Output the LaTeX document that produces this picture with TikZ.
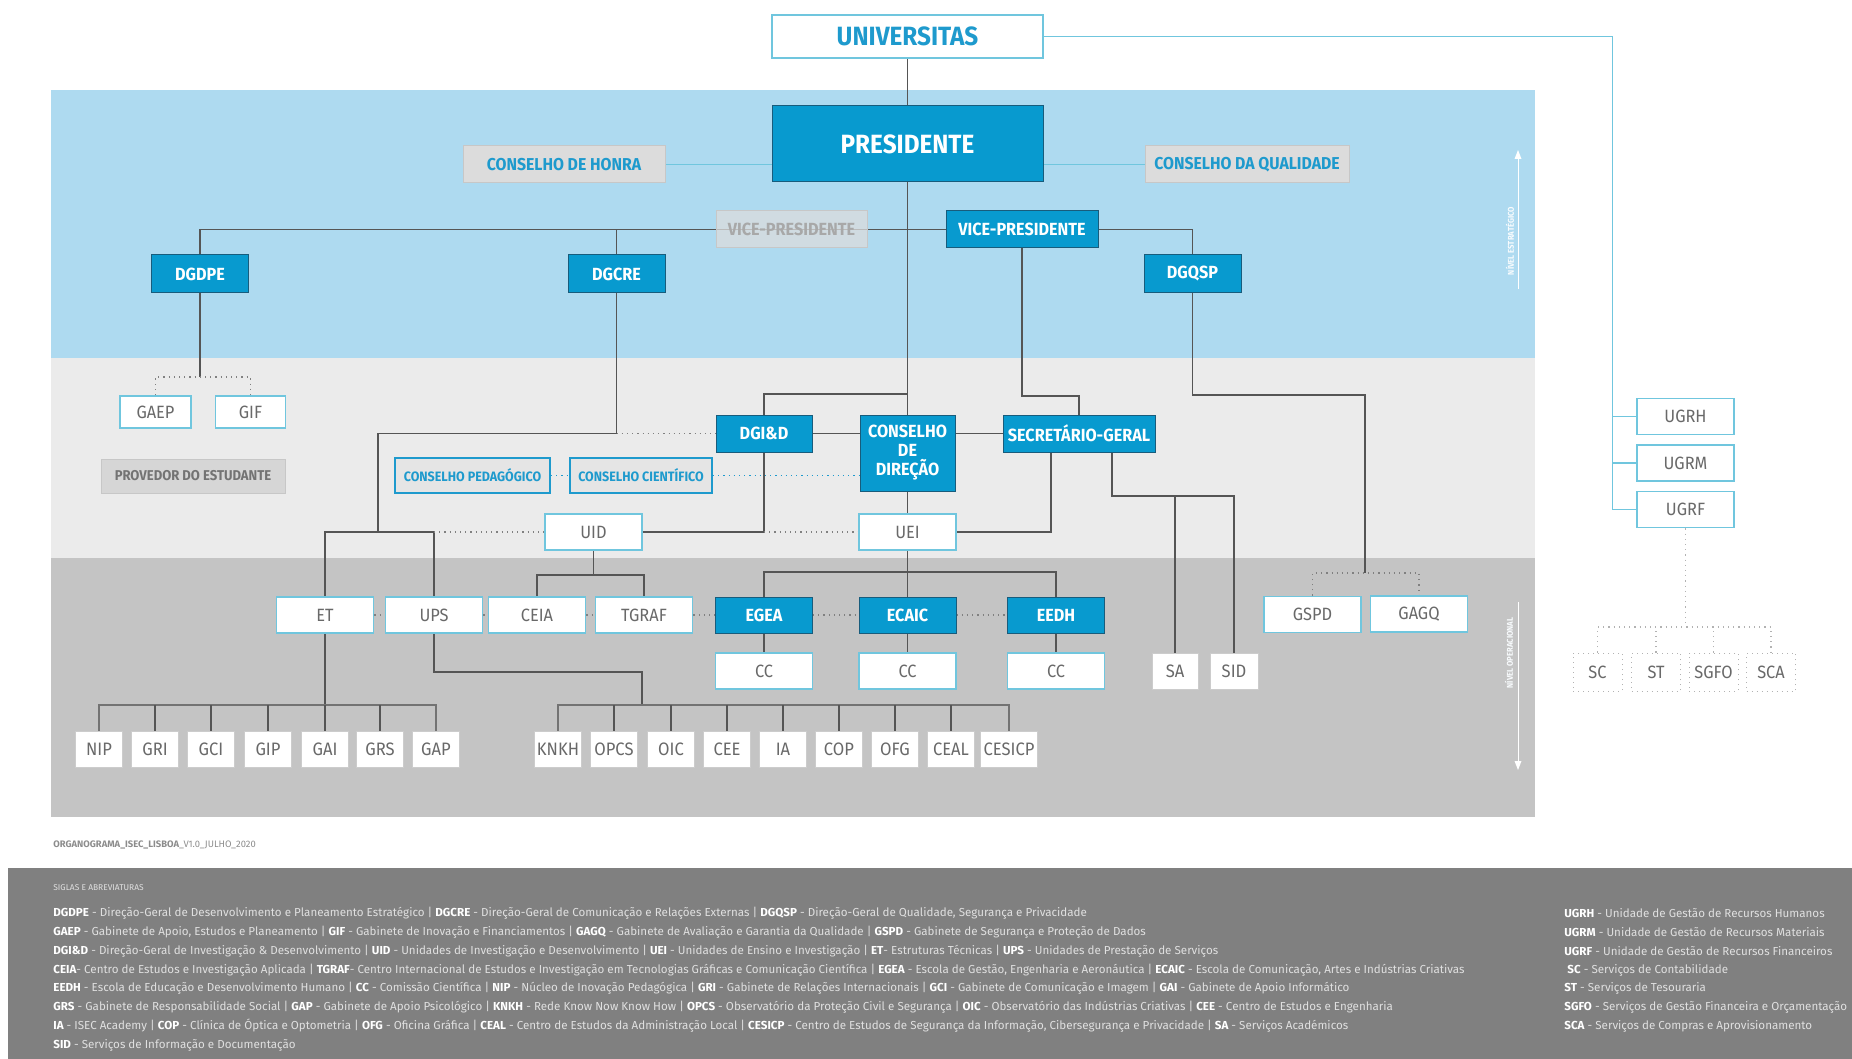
\documentclass[tikz,border=0pt]{standalone}
\usepackage{fontspec}
\setmainfont{Fira Sans}[FakeStretch=0.92]
\newfontfamily\legendfont{Fira Sans}
\usetikzlibrary{calc}

\definecolor{bandblue}{RGB}{174,218,240}
\definecolor{bandlight}{RGB}{235,235,235}
\definecolor{banddark}{RGB}{196,196,196}
\definecolor{boxblue}{RGB}{8,154,207}
\definecolor{boxedge}{RGB}{24,92,124}
\definecolor{rimblue}{RGB}{112,198,222}
\definecolor{textblue}{RGB}{30,154,205}
\definecolor{textgray}{RGB}{105,105,105}
\definecolor{linegray}{RGB}{85,85,85}
\definecolor{footgray}{RGB}{128,128,128}
\definecolor{councilgray}{RGB}{220,220,220}

\newcommand{\sigla}[1]{\textbf{\color{white}#1}}

\pgfdeclarelayer{lines}
\pgfsetlayers{lines,main}

\begin{document}
\begin{tikzpicture}[x=5pt,y=5pt,
    bluebox/.style={draw=boxedge, line width=0.5pt, fill=boxblue, text=white, font=\bfseries\fontsize{8.8}{9.5}\selectfont, minimum width=48.5pt, minimum height=19pt},
    rimbox/.style={draw=rimblue, line width=0.9pt, fill=white, text=textgray, font=\fontsize{8.9}{9}\selectfont, minimum width=48.5pt, minimum height=18pt},
    unitbox/.style={draw=white!80!black, line width=0.4pt, fill=white, text=textgray, font=\fontsize{9}{9}\selectfont, minimum width=23.5pt, minimum height=18pt},
    servbox/.style={draw=white!70!black, line width=0.5pt, dotted, fill=white, text=textgray, font=\fontsize{8.9}{9}\selectfont, minimum width=24.5pt, minimum height=19pt},
    greybox/.style={draw=white!78!black, line width=0.5pt, fill=councilgray, text=textblue, font=\bfseries\fontsize{8.6}{9}\selectfont, minimum height=18.5pt},
    councilbox/.style={draw=textblue, line width=0.9pt, fill=white!90!black, text=textblue, font=\bfseries\fontsize{6.8}{7}\selectfont, minimum height=17.5pt},
    link/.style={draw=linegray, line width=0.6pt},
    busline/.style={draw=white!45!black, line width=1pt},
    dotlink/.style={draw=gray, line width=0.6pt, dotted},
    bluelink/.style={draw=rimblue, line width=0.9pt},
    leveltext/.style={text=white!92!bandblue, font=\bfseries\fontsize{4.2}{5}\selectfont, rotate=90},
    legend/.style={anchor=west, text=white!88!black, font=\legendfont\fontsize{5.8}{7}\selectfont}]
		\tikzstyle{every node}+=[inner sep=0pt]
		\useasboundingbox (0,0) rectangle (185.2,-105.9);
		% nivel estrategico
		\node [rimbox, minimum width=135.5pt, minimum height=21.5pt, text=textblue, font=\bfseries\fontsize{13.2}{14}\selectfont] (univ) at (90.75,-3.65) {UNIVERSITAS};
		\node [bluebox, minimum width=135.5pt, minimum height=38pt, font=\bfseries\fontsize{13.2}{14}\selectfont] (pres) at (90.75,-14.4) {PRESIDENTE};
		\node [greybox, minimum width=101pt] (honra) at (56.4,-16.45) {CONSELHO DE HONRA};
		\node [greybox, minimum width=102pt] (qual) at (124.7,-16.45) {CONSELHO DA QUALIDADE};
		\node [greybox, minimum width=75.5pt, text=white!66!black, font=\bfseries\fontsize{8.8}{9.5}\selectfont, fill opacity=0.75, text opacity=1] (vpgrey) at (79.15,-22.95) {VICE-PRESIDENTE};
		\node [bluebox, minimum width=76pt, minimum height=18.5pt] (vpblue) at (102.2,-22.95) {VICE-PRESIDENTE};
		\node [bluebox] (dgdpe) at (20.0,-27.4) {DGDPE};
		\node [bluebox] (dgcre) at (61.65,-27.4) {DGCRE};
		\node [bluebox] (dgqsp) at (119.25,-27.4) {DGQSP};
		% nivel intermedio
		\node [rimbox, minimum width=35.5pt, minimum height=16pt] (gaep) at (15.55,-41.2) {GAEP};
		\node [rimbox, minimum width=35pt, minimum height=16pt] (gif) at (25.05,-41.2) {GIF};
		\node [greybox, fill=white!84!black, text=white!45!black, minimum width=92pt, minimum height=17pt, font=\bfseries\fontsize{7.1}{7}\selectfont] (prov) at (19.3,-47.6) {PROVEDOR DO ESTUDANTE};
		\node [councilbox, minimum width=77.5pt] (cped) at (47.25,-47.55) {CONSELHO PEDAGÓGICO};
		\node [councilbox, minimum width=71pt] (ccient) at (64.1,-47.55) {CONSELHO CIENTÍFICO};
		\node [bluebox, minimum width=48pt, minimum height=18.5pt] (dgid) at (76.4,-43.35) {DGI\&D};
		\node [bluebox, minimum width=47.5pt, minimum height=38pt, align=center] (cdd) at (90.75,-45.3) {CONSELHO\\DE\\DIREÇÃO};
		\node [bluebox, minimum width=76pt, minimum height=18.5pt] (sg) at (107.9,-43.35) {SECRETÁRIO-GERAL};
		\node [rimbox] (uid) at (59.35,-53.2) {UID};
		\node [rimbox] (uei) at (90.75,-53.2) {UEI};
		% nivel operacional
		\node [rimbox] (et) at (32.5,-61.5) {ET};
		\node [rimbox] (ups) at (43.4,-61.5) {UPS};
		\node [rimbox] (ceia) at (53.7,-61.5) {CEIA};
		\node [rimbox] (tgraf) at (64.4,-61.5) {TGRAF};
		\node [bluebox, minimum height=18pt] (egea) at (76.4,-61.5) {EGEA};
		\node [bluebox, minimum height=18pt] (ecaic) at (90.75,-61.5) {ECAIC};
		\node [bluebox, minimum height=18pt] (eedh) at (105.6,-61.5) {EEDH};
		\node [rimbox] (cc1) at (76.4,-67.1) {CC};
		\node [rimbox] (cc2) at (90.75,-67.1) {CC};
		\node [rimbox] (cc3) at (105.6,-67.1) {CC};
		\node [unitbox, minimum width=23pt] (sa) at (117.5,-67.1) {SA};
		\node [unitbox, minimum width=24pt] (sid) at (123.4,-67.1) {SID};
		\node [rimbox] (gspd) at (131.25,-61.45) {GSPD};
		\node [rimbox] (gagq) at (141.9,-61.4) {GAGQ};
		\node [unitbox] (nip) at (9.9,-74.9) {NIP};
		\node [unitbox] (gri) at (15.5,-74.9) {GRI};
		\node [unitbox] (gci) at (21.1,-74.9) {GCI};
		\node [unitbox] (gip) at (26.8,-74.9) {GIP};
		\node [unitbox] (gai) at (32.5,-74.9) {GAI};
		\node [unitbox] (grs) at (38.0,-74.9) {GRS};
		\node [unitbox] (gap) at (43.6,-74.9) {GAP};
		\node [unitbox] (knkh) at (55.8,-74.9) {KNKH};
		\node [unitbox] (opcs) at (61.4,-74.9) {OPCS};
		\node [unitbox] (oic) at (67.1,-74.9) {OIC};
		\node [unitbox] (cee) at (72.7,-74.9) {CEE};
		\node [unitbox] (ia) at (78.3,-74.9) {IA};
		\node [unitbox] (cop) at (83.9,-74.9) {COP};
		\node [unitbox] (ofg) at (89.5,-74.9) {OFG};
		\node [unitbox] (ceal) at (95.1,-74.9) {CEAL};
		\node [unitbox, minimum width=28.5pt] (cesicp) at (100.9,-74.9) {CESICP};
		% unidades de gestao
		\node [rimbox] (ugrh) at (168.55,-41.65) {UGRH};
		\node [rimbox] (ugrm) at (168.55,-46.3) {UGRM};
		\node [rimbox] (ugrf) at (168.55,-50.95) {UGRF};
		\node [servbox] (sc) at (159.75,-67.2) {SC};
		\node [servbox] (st) at (165.6,-67.2) {ST};
		\node [servbox] (sgfo) at (171.35,-67.2) {SGFO};
		\node [servbox] (sca) at (177.1,-67.2) {SCA};
		% niveis
		\node [leveltext] (lvlstrat) at (151.0,-24.1) {NÍVEL ESTRATÉGICO};
		\node [leveltext] (lvlop) at (150.9,-65.3) {NÍVEL OPERACIONAL};
		\draw [white, line width=0.4pt] (151.8,-28.9) -- (151.8,-15.6);
		\fill [white] (151.8,-15.0) -- (151.45,-15.9) -- (152.15,-15.9);
		\draw [white, line width=0.4pt] (151.8,-60.2) -- (151.8,-76.4);
		\fill [white] (151.8,-77.0) -- (151.45,-76.1) -- (152.15,-76.1);
		\coordinate (ugbus) at (161.25,-3.65);
		\coordinate (gbus) at (20.0,-37.7);
		\coordinate (crebend) at (37.8,-43.35);
		\coordinate (etbus) at (37.8,-53.2);
		\coordinate (uidbus) at (59.35,-57.5);
		\coordinate (presjoin) at (90.75,-39.4);
		\coordinate (sgknee) at (107.9,-39.6);
		\coordinate (sabus) at (117.5,-49.6);
		\coordinate (qspknee) at (136.5,-39.5);
		\coordinate (qspbus) at (136.5,-57.3);
		\coordinate (ueibus) at (90.75,-57.2);
		\coordinate (etbus2) at (32.5,-70.5);
		\coordinate (upsknee) at (64.2,-67.2);
		\coordinate (upsbus) at (64.2,-70.5);
		\coordinate (servbus) at (168.55,-62.7);
		% rodape
		\fill [footgray] (0.8,-86.8) rectangle (185.2,-105.9);
		\node [anchor=west, text=white!55!black, font=\legendfont\fontsize{4.7}{5}\selectfont] (versao) at (5.3,-84.5) {\textbf{ORGANOGRAMA\_ISEC\_LISBOA}\_V1.0\_JULHO\_2020};
		\node [legend, font=\legendfont\fontsize{4.2}{5}\selectfont] (siglas) at (5.3,-88.8) {SIGLAS E ABREVIATURAS};
		\node [legend] (leg1) at (5.3,-91.3) {\sigla{DGDPE} - Direção-Geral de Desenvolvimento e Planeamento Estratégico | \sigla{DGCRE} - Direção-Geral de Comunicação e Relações Externas | \sigla{DGQSP} - Direção-Geral de Qualidade, Segurança e Privacidade};
		\node [legend] (leg2) at (5.3,-93.2) {\sigla{GAEP} - Gabinete de Apoio, Estudos e Planeamento | \sigla{GIF} - Gabinete de Inovação e Financiamentos | \sigla{GAGQ} - Gabinete de Avaliação e Garantia da Qualidade | \sigla{GSPD} - Gabinete de Segurança e Proteção de Dados};
		\node [legend] (leg3) at (5.3,-95.1) {\sigla{DGI\&D} - Direção-Geral de Investigação \& Desenvolvimento | \sigla{UID} - Unidades de Investigação e Desenvolvimento | \sigla{UEI} - Unidades de Ensino e Investigação | \sigla{ET}- Estruturas Técnicas | \sigla{UPS} - Unidades de Prestação de Serviços};
		\node [legend] (leg4) at (5.3,-97.0) {\sigla{CEIA}- Centro de Estudos e Investigação Aplicada | \sigla{TGRAF}- Centro Internacional de Estudos e Investigação em Tecnologias Gráficas e Comunicação Científica | \sigla{EGEA} - Escola de Gestão, Engenharia e Aeronáutica | \sigla{ECAIC} - Escola de Comunicação, Artes e Indústrias Criativas};
		\node [legend] (leg5) at (5.3,-98.85) {\sigla{EEDH} - Escola de Educação e Desenvolvimento Humano | \sigla{CC} - Comissão Científica | \sigla{NIP} - Núcleo de Inovação Pedagógica | \sigla{GRI} - Gabinete de Relações Internacionais | \sigla{GCI} - Gabinete de Comunicação e Imagem | \sigla{GAI} - Gabinete de Apoio Informático};
		\node [legend] (leg6) at (5.3,-100.7) {\sigla{GRS} - Gabinete de Responsabilidade Social | \sigla{GAP} - Gabinete de Apoio Psicológico | \sigla{KNKH} - Rede Know Now Know How | \sigla{OPCS} - Observatório da Proteção Civil e Segurança | \sigla{OIC} - Observatório das Indústrias Criativas | \sigla{CEE} - Centro de Estudos e Engenharia};
		\node [legend] (leg7) at (5.3,-102.6) {\sigla{IA} - ISEC Academy | \sigla{COP} - Clínica de Óptica e Optometria | \sigla{OFG} - Oficina Gráfica | \sigla{CEAL} - Centro de Estudos da Administração Local | \sigla{CESICP} - Centro de Estudos de Segurança da Informação, Cibersegurança e Privacidade | \sigla{SA} - Serviços Académicos};
		\node [legend] (leg8) at (5.3,-104.5) {\sigla{SID} - Serviços de Informação e Documentação};
		\node [legend] (legr1) at (156.4,-91.3) {\sigla{UGRH} - Unidade de Gestão de Recursos Humanos};
		\node [legend] (legr2) at (156.4,-93.2) {\sigla{UGRM} - Unidade de Gestão de Recursos Materiais};
		\node [legend] (legr3) at (156.4,-95.1) {\sigla{UGRF} - Unidade de Gestão de Recursos Financeiros};
		\node [legend] (legr4) at (156.7,-97.0) {\sigla{SC} - Serviços de Contabilidade};
		\node [legend] (legr5) at (156.4,-98.85) {\sigla{ST} - Serviços de Tesouraria};
		\node [legend] (legr6) at (156.4,-100.7) {\sigla{SGFO} - Serviços de Gestão Financeira e Orçamentação};
		\node [legend] (legr7) at (156.4,-102.6) {\sigla{SCA} - Serviços de Compras e Aprovisionamento};
		\begin{pgfonlayer}{lines}
		\fill [bandblue] (5.1,-9.05) rectangle (153.5,-35.8);
		\fill [bandlight] (5.1,-35.8) rectangle (153.5,-55.75);
		\fill [banddark] (5.1,-55.75) rectangle (153.5,-81.7);
		\draw [bluelink] (univ.east) -- (ugbus) |- (ugrf.west);
		\draw [bluelink] (ugbus |- ugrh.west) -- (ugrh.west);
		\draw [bluelink] (ugbus |- ugrm.west) -- (ugrm.west);
		\draw [bluelink] (honra.east) -- (honra.east -| pres.west);
		\draw [bluelink] (qual.west) -- (qual.west -| pres.east);
		\draw [link] (univ) -- (pres);
		\draw [link] (pres) -- (cdd);
		\draw [link] (dgdpe.north) |- (vpblue.west);
		\draw [link] (vpblue.east) -| (dgqsp.north);
		\draw [link] (dgcre.north) -- (dgcre.north |- vpgrey.west);
		\draw [link] (dgdpe) -- (gbus);
		\draw [dotlink] (gaep.north) |- (gbus) -| (gif.north);
		\draw [link] (dgcre.south) |- (crebend) -- (etbus);
		\draw [link] (et.north) |- (etbus) -| (ups.north);
		\draw [dotlink] (dgcre.south |- dgid.west) -- (dgid.west);
		\draw [dotlink] (uid.west -| ups.north) -- (uid.west);
		\draw [link] (uid) -- (uidbus);
		\draw [link] (ceia.north) |- (uidbus) -| (tgraf.north);
		\draw [link] (uid.east) -| (dgid.south);
		\draw [dotlink] (dgid.south |- uei.west) -- (uei.west);
		\draw [link] (dgid.north) |- (presjoin);
		\draw [link] (dgid.east) -- (dgid.east -| cdd.west);
		\draw [link] (sg.west) -- (sg.west -| cdd.east);
		\draw [dotlink, draw=textblue] (cped.east) -- (ccient.west);
		\draw [dotlink, draw=textblue] (ccient.east) -- (ccient.east -| cdd.west);
		\draw [link] (cdd) -- (uei);
		\draw [link] (vpblue.south) |- (sgknee) -- (sg.north);
		\draw [link] ($(sg.south)+(-2.8,0)$) |- (uei.east);
		\draw [link] ($(sg.south)+(3.3,0)$) |- (sabus) -| (sid.north);
		\draw [link] (sabus) -- (sa.north);
		\draw [link] (dgqsp.south) |- (qspknee) -- (qspbus);
		\draw [dotlink] (gspd.north) |- (qspbus) -| (gagq.north);
		\draw [link] (uei) -- (ecaic);
		\draw [link] (egea.north) |- (ueibus) -| (eedh.north);
		\draw [link] (egea) -- (cc1);
		\draw [link] (ecaic) -- (cc2);
		\draw [link] (eedh) -- (cc3);
		\draw [dotlink] (et.east) -- (ups.west) (ups.east) -- (ceia.west) (ceia.east) -- (tgraf.west) (tgraf.east) -- (egea.west) (egea.east) -- (ecaic.west) (ecaic.east) -- (eedh.west);
		\draw [link] (et) -- (etbus2);
		\draw [busline] (nip.north) |- (etbus2) -| (gap.north);
		\draw [link] (gri.north) -- (gri.north |- etbus2);
		\draw [link] (gci.north) -- (gci.north |- etbus2);
		\draw [link] (gip.north) -- (gip.north |- etbus2);
		\draw [link] (gai.north) -- (gai.north |- etbus2);
		\draw [link] (grs.north) -- (grs.north |- etbus2);
		\draw [link] (ups.south) |- (upsknee) -- (upsbus);
		\draw [busline] (knkh.north) |- (upsbus) -| (cesicp.north);
		\draw [link] (opcs.north) -- (opcs.north |- upsbus);
		\draw [link] (oic.north) -- (oic.north |- upsbus);
		\draw [link] (cee.north) -- (cee.north |- upsbus);
		\draw [link] (ia.north) -- (ia.north |- upsbus);
		\draw [link] (cop.north) -- (cop.north |- upsbus);
		\draw [link] (ofg.north) -- (ofg.north |- upsbus);
		\draw [link] (ceal.north) -- (ceal.north |- upsbus);
		\draw [dotlink, draw=white!70!black] (ugrf) -- (servbus);
		\draw [dotlink, draw=white!70!black] (sc.north) |- (servbus) -| (sca.north);
		\draw [dotlink, draw=white!70!black] (st.north) -- (st.north |- servbus);
		\draw [dotlink, draw=white!70!black] (sgfo.north) -- (sgfo.north |- servbus);
		\end{pgfonlayer}
\end{tikzpicture}
\end{document}
